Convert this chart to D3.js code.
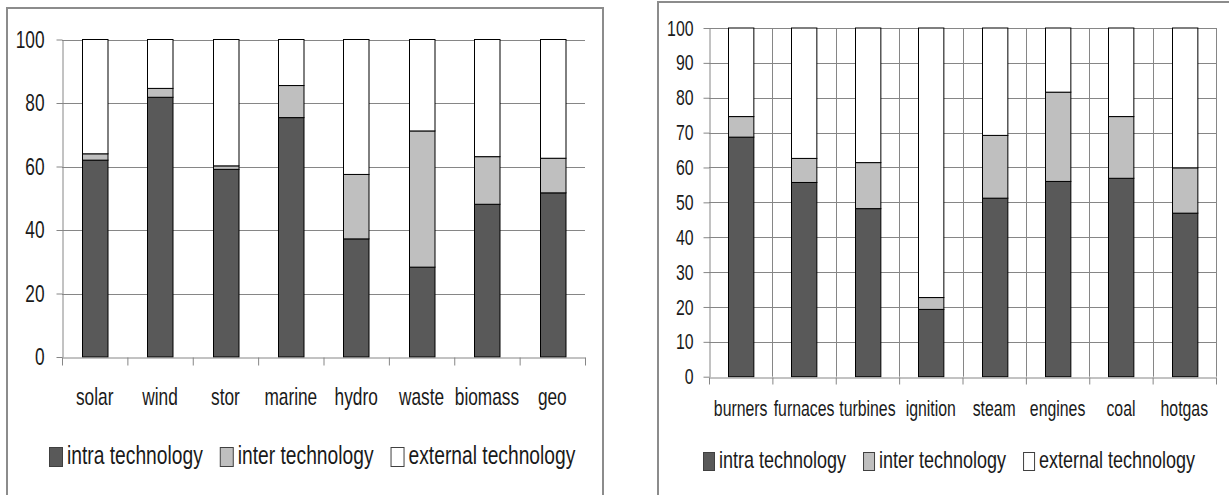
<!DOCTYPE html>
<html>
<head>
<meta charset="utf-8">
<script src="https://cdn.jsdelivr.net/npm/d3@7"></script>
<style>
  body { margin: 0; background: #fff; }
  text { font-family: "Liberation Sans", Arial, sans-serif; fill: #1a1a1a; }
</style>
</head>
<body>
<div id="container"></div>
<script>
// series (stack order bottom -> top)
var seriesKeys = ["intra technology", "inter technology", "external technology"];
var seriesColors = ["#595959", "#bfbfbf", "#ffffff"];

// left chart
var leftCategories = ["solar", "wind", "stor", "marine", "hydro", "waste", "biomass", "geo"];
var leftIntra    = [62.0, 81.8, 59.1, 75.4, 37.2, 28.3, 48.1, 51.7];
var leftInter    = [ 2.0,  2.8,  1.1, 10.1, 20.3, 42.9, 15.0, 10.9];
var leftExternal = [36.0, 15.4, 39.8, 14.5, 42.5, 28.8, 36.9, 37.4];
var leftTicks = [0, 20, 40, 60, 80, 100];

// right chart
var rightCategories = ["burners", "furnaces", "turbines", "ignition", "steam", "engines", "coal", "hotgas"];
var rightIntra    = [68.7, 55.7, 48.2, 19.3, 51.2, 56.0, 56.9, 46.9];
var rightInter    = [ 5.9,  6.9, 13.2,  3.4, 18.0, 25.6, 17.7, 13.0];
var rightExternal = [25.4, 37.4, 38.6, 77.3, 30.8, 18.4, 25.4, 40.1];
var rightTicks = [0, 10, 20, 30, 40, 50, 60, 70, 80, 90, 100];

var svg = d3.select("#container")
  .append("svg")
  .attr("width", 1229)
  .attr("height", 495);

var GRID = "#868686";

// squeeze text horizontally (the source picture is narrow)
function squeeze(sel, s) {
  sel.each(function() {
    var t = d3.select(this);
    var x = +t.attr("x") || 0;
    t.attr("x", x / s).attr("transform", "scale(" + s + ",1)");
  });
}

function drawChart(o) {
  var g = svg.append("g");

  g.append("rect")
    .attr("x", o.frame[0]).attr("y", o.frame[1])
    .attr("width", o.frame[2]).attr("height", o.frame[3])
    .attr("fill", "none").attr("stroke", "#8c8c8c").attr("stroke-width", 2);

  var n = o.categories.length;
  var y = d3.scaleLinear().domain([0, 100]).range([o.bottom, o.top]);
  var xCat = d3.scaleBand().domain(o.categories).range([o.left, o.right]);
  var xEdge = d3.scaleLinear().domain([0, n]).range([o.left, o.right]);
  var bw = xCat.bandwidth() * o.barRatio;

  var rows = o.categories.map(function(c, i) {
    var r = { cat: c };
    r[seriesKeys[0]] = o.intra[i];
    r[seriesKeys[1]] = o.inter[i];
    r[seriesKeys[2]] = o.external[i];
    return r;
  });
  var stacked = d3.stack().keys(seriesKeys)(rows);

  // horizontal gridlines
  g.append("g").selectAll("line")
    .data(o.ticks.filter(function(t) { return t > 0; }))
    .enter().append("line")
    .attr("x1", o.left).attr("x2", o.right)
    .attr("y1", function(d) { return Math.round(y(d)) + 0.5; })
    .attr("y2", function(d) { return Math.round(y(d)) + 0.5; })
    .attr("stroke", GRID).attr("stroke-width", 1);

  // vertical gridlines
  if (o.vGrid) {
    g.append("g").selectAll("line")
      .data(d3.range(1, n + 1))
      .enter().append("line")
      .attr("x1", function(d) { return Math.round(xEdge(d)) + 0.5; })
      .attr("x2", function(d) { return Math.round(xEdge(d)) + 0.5; })
      .attr("y1", o.top).attr("y2", o.bottom)
      .attr("stroke", GRID).attr("stroke-width", 1);
  }

  // y axis
  var yAxis = g.append("g")
    .attr("transform", "translate(" + (Math.round(o.left) + 0.5) + ",0)")
    .call(d3.axisLeft(y).tickValues(o.ticks).tickSize(6).tickSizeOuter(0).tickPadding(o.yPad));
  yAxis.select(".domain").attr("stroke", GRID);
  yAxis.selectAll(".tick line").attr("stroke", GRID);
  yAxis.selectAll("text")
    .attr("font-size", o.axisFont)
    .attr("fill", "#1a1a1a")
    .style("font-family", '"Liberation Sans", Arial, sans-serif');
  squeeze(yAxis.selectAll("text"), o.axisSqueeze);

  // bars
  g.append("g").selectAll("g")
    .data(stacked)
    .enter().append("g")
    .attr("fill", function(d, i) { return seriesColors[i]; })
    .selectAll("rect")
    .data(function(d) { return d; })
    .enter().append("rect")
    .attr("x", function(d) { return Math.round(xCat(d.data.cat) + (xCat.bandwidth() - bw) / 2) + 0.5; })
    .attr("y", function(d) { return y(d[1]); })
    .attr("width", bw)
    .attr("height", function(d) { return y(d[0]) - y(d[1]); })
    .attr("stroke", "#000").attr("stroke-width", 1);

  // x axis with ticks at category boundaries
  var xAxis = g.append("g")
    .attr("transform", "translate(0," + (Math.round(o.bottom) + 0.5) + ")")
    .call(d3.axisBottom(xEdge).tickValues(d3.range(n + 1)).tickSize(o.xTick).tickSizeOuter(0).tickFormat(""));
  xAxis.select(".domain").attr("stroke", GRID);
  xAxis.selectAll(".tick line").attr("stroke", GRID);

  var xLabels = g.append("g")
    .attr("transform", "translate(0," + o.bottom + ")")
    .call(d3.axisBottom(xCat).tickSize(0));
  xLabels.select(".domain").remove();
  xLabels.selectAll("text")
    .attr("y", o.xLabelY).attr("dy", 0)
    .attr("font-size", o.axisFont)
    .attr("fill", "#1a1a1a")
    .style("font-family", '"Liberation Sans", Arial, sans-serif');
  squeeze(xLabels.selectAll("text"), o.axisSqueeze);

  // legend
  var lx = o.legendX;
  seriesKeys.forEach(function(k, i) {
    g.append("rect")
      .attr("x", lx + 0.5).attr("y", o.legendY - o.swH + 2.5)
      .attr("width", o.swW).attr("height", o.swH)
      .attr("fill", seriesColors[i]).attr("stroke", "#404040").attr("stroke-width", 1);
    lx += o.swW + 5;
    var t = g.append("g")
      .attr("transform", "translate(" + lx + "," + o.legendY + ")")
      .append("text")
      .attr("transform", "scale(" + o.legendSqueeze + ",1)")
      .attr("font-size", o.legendFont)
      .text(k);
    lx += t.node().getComputedTextLength() * o.legendSqueeze + 17;
  });
}

drawChart({
  frame: [7, 8, 596, 600],
  left: 62, right: 585, top: 39.5, bottom: 357,
  categories: leftCategories, intra: leftIntra, inter: leftInter, external: leftExternal,
  ticks: leftTicks, vGrid: false, barRatio: 0.39,
  yPad: 12, xTick: 8, xLabelY: 48,
  axisFont: 24, axisSqueeze: 0.72,
  legendX: 49, legendY: 464, swW: 13, swH: 19, legendFont: 26, legendSqueeze: 0.74
});

drawChart({
  frame: [658, 2, 700, 600],
  left: 709, right: 1216, top: 28, bottom: 376.7,
  categories: rightCategories, intra: rightIntra, inter: rightInter, external: rightExternal,
  ticks: rightTicks, vGrid: true, barRatio: 0.40,
  yPad: 10, xTick: 7, xLabelY: 39,
  axisFont: 22, axisSqueeze: 0.72,
  legendX: 703, legendY: 468, swW: 11, swH: 18, legendFont: 24, legendSqueeze: 0.75
});
</script>
</body>
</html>
